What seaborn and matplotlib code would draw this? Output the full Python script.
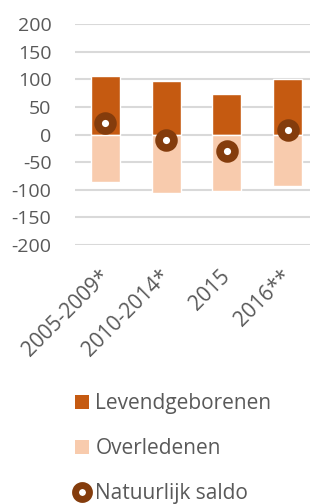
import numpy as np
import pandas as pd
import matplotlib
matplotlib.use('Agg')
import matplotlib.pyplot as plt
import matplotlib.transforms as mtransforms
from matplotlib.patches import Patch
from matplotlib.lines import Line2D
import seaborn as sns

periods = ['2005-2009*', '2010-2014*', '2015', '2016**']
born = [107, 97, 73, 100]
died = [-86, -106, -103, -93]
saldo = [22, -10, -29, 8]

c_born = '#C55A11'
c_died = '#F8CBAD'
c_saldo = '#843C0C'
c_text = '#595959'

sns.set_theme(style='white')
plt.rcParams['font.family'] = ['Open Sans', 'DejaVu Sans']
plt.rcParams['axes.unicode_minus'] = False

df = pd.DataFrame({'periode': periods, 'born': born, 'died': died, 'saldo': saldo})

fig = plt.figure(figsize=(3.10, 5.04), dpi=100)
ax = fig.add_axes([75 / 310, 1 - 245 / 504, 235 / 310, 220.7 / 504])

sns.barplot(data=df, x='periode', y='born', color=c_born, width=0.48,
            saturation=1, ax=ax, zorder=2)
sns.barplot(data=df, x='periode', y='died', color=c_died, width=0.48,
            saturation=1, ax=ax, zorder=2)
sns.scatterplot(data=df, x='periode', y='saldo', marker='o', s=115,
                facecolor='white', edgecolor=c_saldo, linewidth=5.5,
                ax=ax, zorder=3)

ax.set_ylim(-200, 200)
ax.set_xlim(-0.5, 3.37)
ax.set_yticks(np.arange(-200, 201, 50))
ax.yaxis.grid(True, color='#D9D9D9', linewidth=1.5)
ax.set_axisbelow(True)
for s in ax.spines.values():
    s.set_visible(False)
ax.set_xlabel('')
ax.set_ylabel('')
ax.tick_params(axis='y', length=0, pad=17, labelsize=14, labelcolor=c_text)
ax.tick_params(axis='x', length=0, pad=15, labelsize=15, labelcolor=c_text)
shift = mtransforms.ScaledTranslation(-7 / 100, 0, fig.dpi_scale_trans)
for lab in ax.get_xticklabels():
    lab.set_rotation(45)
    lab.set_ha('right')
    lab.set_rotation_mode('anchor')
    lab.set_transform(lab.get_transform() + shift)

handles = [
    Patch(facecolor=c_born, edgecolor='none', label='Levendgeborenen'),
    Patch(facecolor=c_died, edgecolor='none', label='Overledenen'),
    Line2D([], [], linestyle='none', marker='o', markersize=10, markeredgewidth=5,
           markerfacecolor='white', markeredgecolor=c_saldo, label='Natuurlijk saldo'),
]
leg = fig.legend(handles=handles, loc='upper left', bbox_to_anchor=(75 / 310, 1 - 393 / 504),
                 frameon=False, fontsize=15, labelspacing=1.15, handlelength=0.68,
                 handleheight=0.68, handletextpad=0.3, borderpad=0, borderaxespad=0)
for t in leg.get_texts():
    t.set_color(c_text)

fig.savefig('out.png', dpi=100)
